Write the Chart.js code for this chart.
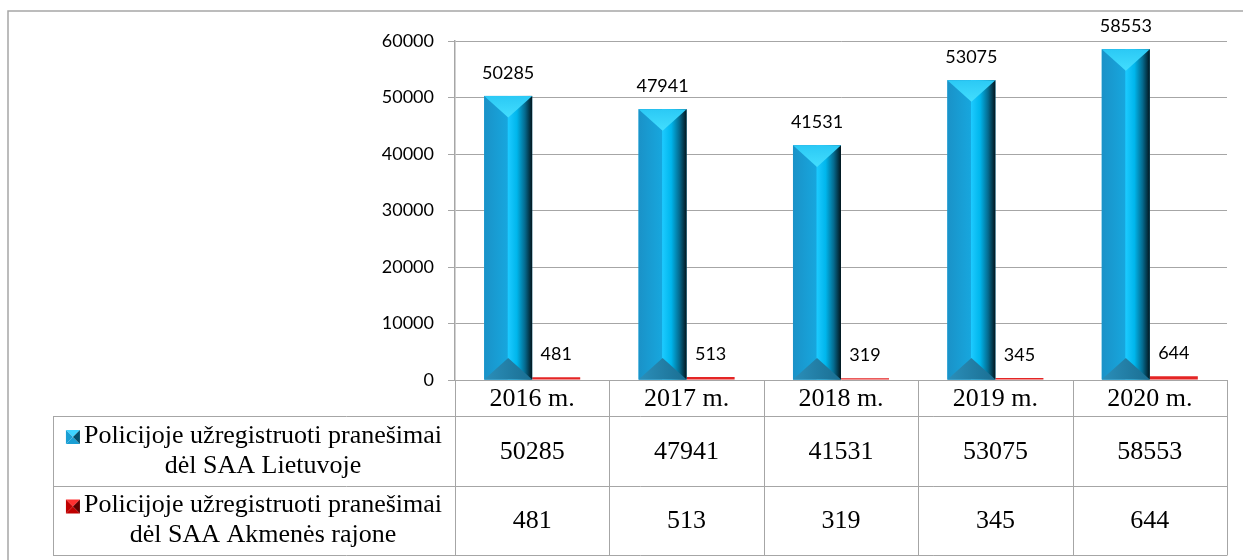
<!DOCTYPE html>
<html>
<head>
<meta charset="utf-8">
<script src="https://cdn.jsdelivr.net/npm/chart.js@4.4.1/dist/chart.umd.min.js"></script>
<style>
  html, body { margin: 0; padding: 0; background: #fff; }
  #wrap { width: 1243px; height: 560px; position: relative; }
</style>
</head>
<body>
<div id="wrap"><canvas id="saaChart"></canvas></div>
<script>
// Duomenys
const metai = ['2016 m.', '2017 m.', '2018 m.', '2019 m.', '2020 m.'];
const lietuvoje = [50285, 47941, 41531, 53075, 58553];
const akmenesRajone = [481, 513, 319, 345, 644];
const serijuPavadinimai = [
    ['Policijoje užregistruoti pranešimai', 'dėl SAA Lietuvoje'],
    ['Policijoje užregistruoti pranešimai', 'dėl SAA Akmenės rajone']
];
const yTicks = [0, 10000, 20000, 30000, 40000, 50000, 60000];

const linija = '#a6a6a6';
const serifFont = '26px "Liberation Serif", "Times New Roman", serif';

// rėmelis aplink visą paveikslą
const remelis = {
    id: 'remelis',
    afterDraw(chart) {
        const c = chart.ctx;
        c.save();
        c.strokeStyle = linija;
        c.lineWidth = 1.5;
        c.beginPath();
        c.moveTo(8, 560);
        c.lineTo(8, 11);
        c.lineTo(1243, 11);
        c.stroke();
        c.restore();
    }
};

// 3D stulpelių imitacija
const stulpeliai = {
    id: 'stulpeliai',
    afterDatasetsDraw(chart) {
        const c = chart.ctx;
        c.save();
        chart.getDatasetMeta(0).data.forEach(el => {
            const x0 = el.x - el.width / 2, x1 = el.x + el.width / 2;
            const top = el.y, bot = el.base, w = el.width;
            const g = c.createLinearGradient(x0, 0, x1, 0);
            g.addColorStop(0, '#1a92c8');
            g.addColorStop(0.48, '#17a6dd');
            g.addColorStop(0.5, '#1ccaff');
            g.addColorStop(0.68, '#00b6ec');
            g.addColorStop(0.85, '#056a8e');
            g.addColorStop(1, '#02151d');
            c.fillStyle = g;
            c.fillRect(x0, top, w, bot - top);
            // viršutinis trikampis
            const gt = c.createLinearGradient(0, top, 0, top + w / 2);
            gt.addColorStop(0, '#2bc9f5');
            gt.addColorStop(1, '#45e0ff');
            c.fillStyle = gt;
            c.beginPath();
            c.moveTo(x0, top);
            c.lineTo(x1, top);
            c.lineTo(el.x, top + w * 0.45);
            c.closePath();
            c.fill();
            // apatinis trikampis
            const gb = c.createLinearGradient(x0, 0, x1, 0);
            gb.addColorStop(0, '#2b8fba');
            gb.addColorStop(1, '#1a6e92');
            c.fillStyle = gb;
            c.beginPath();
            c.moveTo(x0, bot);
            c.lineTo(x1, bot);
            c.lineTo(el.x, bot - w * 0.45);
            c.closePath();
            c.fill();
        });
        c.restore();
    }
};

// reikšmės virš stulpelių
const reiksmes = {
    id: 'reiksmes',
    afterDatasetsDraw(chart) {
        const c = chart.ctx;
        c.save();
        c.font = '18px Lato, "Open Sans", sans-serif';
        c.fillStyle = '#000';
        c.textAlign = 'center';
        c.textBaseline = 'middle';
        chart.data.datasets.forEach((ds, di) => {
            chart.getDatasetMeta(di).data.forEach((el, i) => {
                c.fillText(String(ds.data[i]), el.x, el.y - 23);
            });
        });
        c.restore();
    }
};

function piramide(c, x, y, s, sviesi, vidurine, tamsi) {
    const cx = x + s / 2, cy = y + s / 2;
    const tri = (ax, ay, bx, by, col) => {
        c.fillStyle = col;
        c.beginPath();
        c.moveTo(ax, ay); c.lineTo(bx, by); c.lineTo(cx, cy);
        c.closePath(); c.fill();
    };
    tri(x, y, x + s, y, sviesi);
    tri(x, y, x, y + s, vidurine);
    tri(x, y + s, x + s, y + s, vidurine);
    tri(x + s, y, x + s, y + s, tamsi);
}

// duomenų lentelė po grafiku
const lentele = {
    id: 'lentele',
    afterDraw(chart) {
        const c = chart.ctx;
        const xs = chart.scales.x;
        const area = chart.chartArea;
        const yTop = area.bottom, yHead = 416, yRow1 = 486, yRow2 = 555, xLeft = 53;
        const ribos = [area.left];
        for (let i = 0; i < metai.length - 1; i++) {
            ribos.push((xs.getPixelForTick(i) + xs.getPixelForTick(i + 1)) / 2);
        }
        ribos.push(area.right);

        c.save();
        c.strokeStyle = linija;
        c.lineWidth = 1;
        c.beginPath();
        ribos.forEach(bx => {
            const px = Math.round(bx) + 0.5;
            c.moveTo(px, yTop); c.lineTo(px, yRow2);
        });
        [yHead, yRow1, yRow2].forEach(y => {
            c.moveTo(xLeft, y + 0.5); c.lineTo(Math.round(area.right) + 0.5, y + 0.5);
        });
        c.moveTo(xLeft + 0.5, yHead); c.lineTo(xLeft + 0.5, yRow2);
        c.stroke();

        c.font = serifFont;
        c.fillStyle = '#000';
        c.textAlign = 'center';
        c.textBaseline = 'middle';
        metai.forEach((m, i) => {
            const cx = xs.getPixelForTick(i);
            c.fillText(m, cx, (yTop + yHead) / 2 + 1);
            c.fillText(String(lietuvoje[i]), cx, (yHead + yRow1) / 2 + 1);
            c.fillText(String(akmenesRajone[i]), cx, (yRow1 + yRow2) / 2 + 1);
        });

        // serijų pavadinimai
        const eilutes = [[yHead, yRow1], [yRow1, yRow2]];
        const colCenter = (xLeft + area.left) / 2;
        serijuPavadinimai.forEach((lines, si) => {
            const yc = (eilutes[si][0] + eilutes[si][1]) / 2;
            const w0 = c.measureText(lines[0]).width;
            const mark = 14, gap = 4;
            const start = colCenter - (mark + gap + w0) / 2;
            const textCenter = start + mark + gap + w0 / 2;
            const y1 = yc - 15, y2 = yc + 15;
            if (si === 0) {
                piramide(c, start, y1 - 6, mark, '#3fd3ff', '#1a9fd4', '#05506e');
            } else {
                piramide(c, start, y1 - 6, mark, '#ff3030', '#c00000', '#600000');
            }
            c.fillStyle = '#000';
            c.fillText(lines[0], textCenter, y1);
            c.fillText(lines[1], textCenter, y2);
        });
        c.restore();
    }
};

new Chart(document.getElementById('saaChart'), {
    type: 'bar',
    data: {
        labels: metai,
        datasets: [{
            label: serijuPavadinimai[0].join(' '),
            data: lietuvoje,
            backgroundColor: '#14a8e0',
            borderWidth: 0
        }, {
            label: serijuPavadinimai[1].join(' '),
            data: akmenesRajone,
            backgroundColor: '#e42525',
            borderWidth: 0
        }]
    },
    options: {
        responsive: true,
        maintainAspectRatio: false,
        animation: false,
        layout: { padding: { top: 41, right: 16, bottom: 180, left: 0 } },
        datasets: {
            bar: { categoryPercentage: 0.622, barPercentage: 1 }
        },
        scales: {
            x: { display: false },
            y: {
                min: 0,
                max: 60000,
                afterFit(scale) { scale.width = 455; },
                afterBuildTicks(scale) { scale.ticks = yTicks.map(v => ({ value: v })); },
                grid: { color: linija, tickLength: 7, lineWidth: 1 },
                border: { color: linija, width: 1.5 },
                ticks: {
                    padding: 14,
                    color: '#000',
                    font: { family: 'Lato, "Open Sans", sans-serif', size: 18 },
                    callback: v => String(v)
                }
            }
        },
        plugins: {
            legend: { display: false },
            tooltip: { enabled: false }
        }
    },
    plugins: [remelis, stulpeliai, reiksmes, lentele]
});
</script>
</body>
</html>
